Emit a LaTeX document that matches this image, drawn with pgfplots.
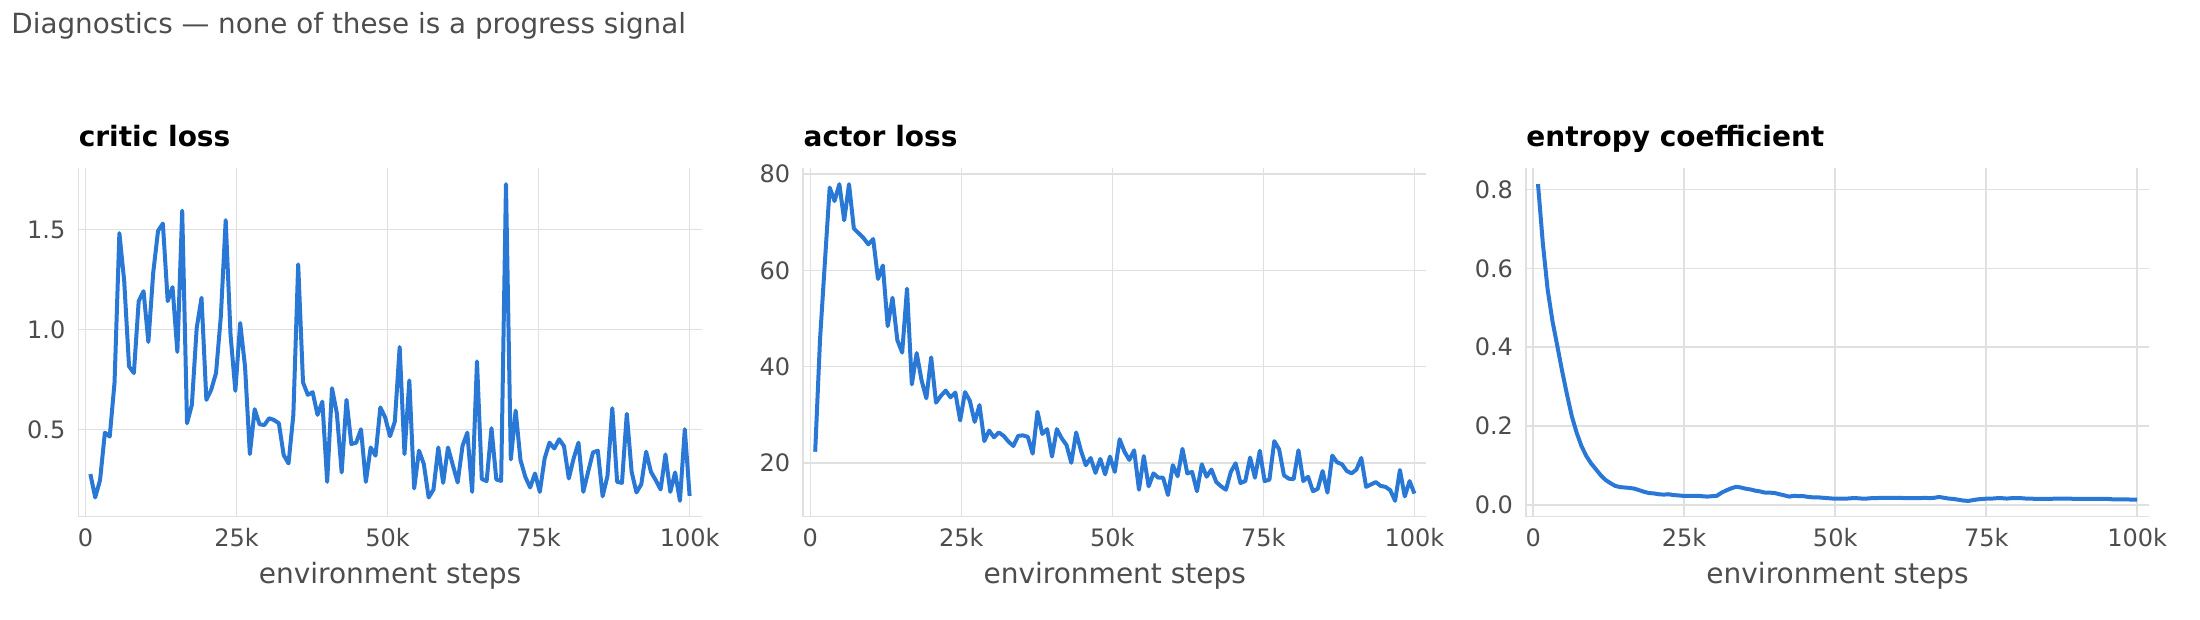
\documentclass[border=0pt]{standalone}
\usepackage{fontspec}
\setmainfont{DejaVu Sans}
\usepackage{pgfplots}
\pgfplotsset{compat=1.18}
\usepackage{pgfplotstable}

\definecolor{lineblue}{RGB}{42,120,214}
\definecolor{gridgray}{RGB}{224,224,224}
\definecolor{txtgray}{RGB}{77,77,77}

% step, critic loss, actor loss, entropy coefficient
\pgfplotstableread{
x critic actor entropy
800 0.278 22.3 0.814
1600 0.161 45.6 0.664
2400 0.248 61.6 0.546
3200 0.485 77.2 0.466
4000 0.465 74.4 0.403
4800 0.736 77.9 0.339
5600 1.482 70.4 0.280
6400 1.242 77.9 0.225
7200 0.816 68.7 0.183
8000 0.783 67.7 0.149
8800 1.142 66.7 0.124
9600 1.192 65.4 0.105
10400 0.938 66.5 0.090
11200 1.284 58.2 0.075
12000 1.493 61.0 0.063
12800 1.530 48.4 0.055
13600 1.142 54.3 0.048
14400 1.212 45.5 0.045
15200 0.888 42.9 0.044
16000 1.594 56.2 0.043
16800 0.532 36.3 0.041
17600 0.624 42.8 0.037
18400 1.008 37.2 0.033
19200 1.159 33.4 0.030
20000 0.649 41.9 0.029
20800 0.699 32.5 0.027
21600 0.783 33.9 0.026
22400 1.067 35.0 0.027
23200 1.547 33.6 0.025
24000 0.975 34.6 0.024
24800 0.694 28.8 0.023
25600 1.033 34.7 0.023
26400 0.816 32.9 0.023
27200 0.378 28.5 0.023
28000 0.602 32.0 0.022
28800 0.527 24.5 0.021
29600 0.523 26.7 0.022
30400 0.557 25.3 0.023
31200 0.548 26.3 0.031
32000 0.532 25.6 0.037
32800 0.373 24.4 0.042
33600 0.331 23.5 0.046
34400 0.574 25.6 0.044
35200 1.326 25.7 0.041
36000 0.736 25.4 0.039
36800 0.674 21.9 0.036
37600 0.687 30.6 0.034
38400 0.574 26.0 0.031
39200 0.640 27.0 0.031
40000 0.239 21.3 0.030
40800 0.707 27.0 0.027
41600 0.582 25.1 0.024
42400 0.286 23.7 0.021
43200 0.649 20.0 0.023
44000 0.428 26.3 0.022
44800 0.435 22.5 0.022
45600 0.502 19.5 0.020
46400 0.239 21.0 0.019
47200 0.411 17.9 0.019
48000 0.370 20.8 0.018
48800 0.611 17.6 0.017
49600 0.561 21.3 0.016
50400 0.467 18.1 0.016
51200 0.540 24.9 0.016
52000 0.913 22.3 0.016
52800 0.378 20.6 0.017
53600 0.746 22.6 0.017
54400 0.206 14.4 0.016
55200 0.395 21.4 0.016
56000 0.328 15.1 0.017
56800 0.161 17.8 0.017
57600 0.201 16.9 0.018
58400 0.411 16.9 0.018
59200 0.234 13.3 0.018
60000 0.411 19.5 0.018
60800 0.323 17.2 0.018
61600 0.236 22.9 0.017
62400 0.418 17.8 0.017
63200 0.485 18.1 0.017
64000 0.189 14.1 0.017
64800 0.841 19.7 0.018
65600 0.253 17.1 0.017
66400 0.243 18.6 0.018
67200 0.507 16.0 0.020
68000 0.251 15.1 0.018
68800 0.244 14.4 0.016
69600 1.727 18.1 0.015
70400 0.351 19.9 0.013
71200 0.595 15.8 0.011
72000 0.348 16.2 0.010
72800 0.264 21.1 0.012
73600 0.211 16.9 0.014
74400 0.281 22.5 0.015
75200 0.189 16.2 0.016
76000 0.356 16.5 0.016
76800 0.435 24.5 0.017
77600 0.406 22.8 0.017
78400 0.452 17.4 0.016
79200 0.418 16.7 0.017
80000 0.256 16.6 0.017
80800 0.356 22.6 0.017
81600 0.435 16.2 0.016
82400 0.189 17.1 0.016
83200 0.289 14.1 0.015
84000 0.386 14.6 0.015
84800 0.395 18.3 0.015
85600 0.167 13.8 0.015
86400 0.268 21.5 0.016
87200 0.607 20.1 0.016
88000 0.239 19.7 0.016
88800 0.234 18.3 0.016
89600 0.579 17.8 0.015
90400 0.289 18.6 0.015
91200 0.186 21.0 0.015
92000 0.227 15.0 0.015
92800 0.390 15.5 0.015
93600 0.289 16.0 0.015
94400 0.247 15.2 0.015
95200 0.201 15.0 0.015
96000 0.376 14.3 0.014
96800 0.189 12.1 0.014
97600 0.286 18.5 0.014
98400 0.144 13.0 0.014
99200 0.502 16.2 0.013
100000 0.169 13.6 0.013
}\diagdata

\pgfplotsset{diag/.style={
  scale only axis, width=311.6pt, height=174.2pt,
  anchor=south west,
  xmin=-1184, xmax=101984,
  axis x line*=bottom, axis y line*=left,
  axis line style={gridgray, line width=0.8pt},
  grid=major, major grid style={gridgray, line width=0.8pt},
  major tick length=0pt,
  xtick={0,25000,50000,75000,100000},
  xticklabels={0,25k,50k,75k,100k},
  scaled ticks=false,
  tick label style={font=\fontsize{12}{14}\selectfont, text=txtgray},
  xticklabel style={yshift=-2.5pt},
  yticklabel style={xshift=-3pt},
  xlabel={environment steps},
  xlabel style={font=\fontsize{14}{16}\selectfont, text=txtgray,
    at={(axis description cs:0.5,0)}, anchor=base, yshift=-33.3pt},
  title style={font=\fontsize{14}{16}\selectfont\bfseries,
    at={(axis description cs:0,1)}, anchor=base west, yshift=4.8pt, inner sep=0pt},
  every axis plot post/.append style={lineblue, line width=2pt, line join=round, mark=none},
}}

\begin{document}
\begin{tikzpicture}
\path[use as bounding box] (0,0) rectangle (1100pt,310pt);
\node[anchor=base west, inner sep=0pt, font=\fontsize{13.9}{16}\selectfont, text=txtgray]
  at (5.5pt,293.35pt) {Diagnostics — none of these is a progress signal};

\begin{axis}[diag, at={(39.2pt,51.65pt)},
  ymin=0.065, ymax=1.806,
  ytick={0.5,1.0,1.5}, yticklabels={0.5,1.0,1.5},
  title={critic loss}]
\addplot table[x=x, y=critic]{\diagdata};
\end{axis}

\begin{axis}[diag, at={(401.6pt,51.65pt)},
  ymin=8.8, ymax=81.2,
  ytick={20,40,60,80}, yticklabels={20,40,60,80},
  title={actor loss}]
\addplot table[x=x, y=actor]{\diagdata};
\end{axis}

\begin{axis}[diag, at={(763pt,51.65pt)},
  ymin=-0.030, ymax=0.854,
  ytick={0,0.2,0.4,0.6,0.8}, yticklabels={0.0,0.2,0.4,0.6,0.8},
  title={entropy coefficient}]
\addplot table[x=x, y=entropy]{\diagdata};
\end{axis}
\end{tikzpicture}
\end{document}
